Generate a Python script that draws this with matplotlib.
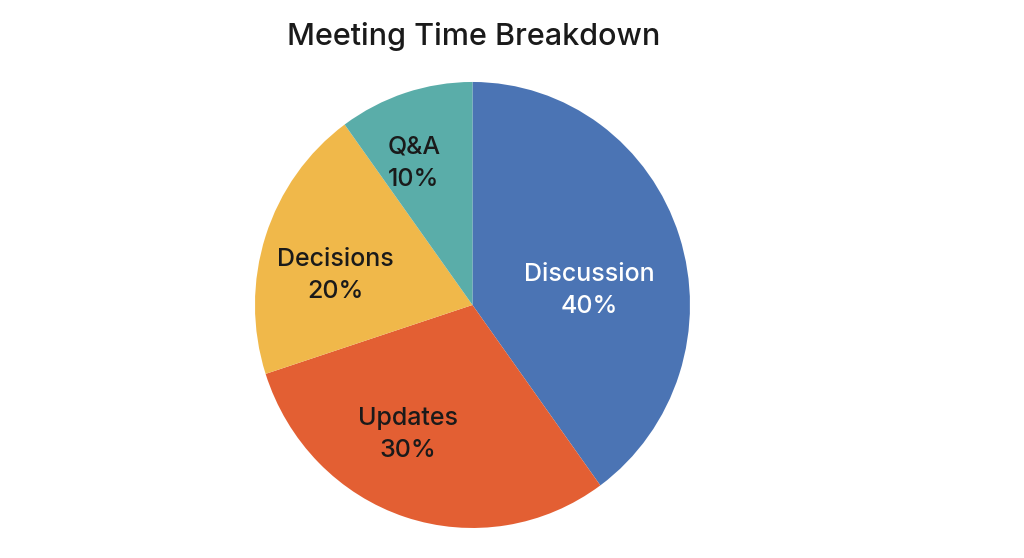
import numpy as np
import matplotlib.pyplot as plt

# meeting time shares (percent)
categories = ['Discussion', 'Updates', 'Decisions', 'Q&A']
shares = [40, 30, 20, 10]
colors = ['#4B74B4', '#E35F33', '#F0B84A', '#5AADA9']
text_colors = ['white', '#1a1a1a', '#1a1a1a', '#1a1a1a']
# small nudges of each label from the wedge middle (degrees, radius)
label_turn = [-11, -9, 6, 5]
label_radius = [0.54, 0.65, 0.645, 0.69]

plt.rcParams['font.family'] = ['Inter', 'DejaVu Sans']

fig = plt.figure(figsize=(10.24, 5.58), dpi=100)
ax = fig.add_axes([0.249, 0.0538, 0.4248, 0.7993])

wedges, texts = ax.pie(shares, colors=colors, startangle=90, counterclock=False,
                       wedgeprops=dict(linewidth=0))
for w, c, lab, s, turn, r in zip(wedges, text_colors, categories, shares,
                                 label_turn, label_radius):
    mid = np.deg2rad((w.theta1 + w.theta2) / 2 + turn)
    ax.text(r * np.cos(mid), r * np.sin(mid), f'{lab}\n{s}%', color=c,
            fontsize=18, fontweight='medium', ha='center', va='center',
            linespacing=1.5)
ax.set_aspect('auto')
ax.set_xlim(-1, 1)
ax.set_ylim(-1, 1)

fig.text(0.463, 0.934, 'Meeting Time Breakdown', ha='center', va='center',
         fontsize=22, fontweight='medium', color='#1a1a1a')

plt.savefig('out.png', dpi=100)
